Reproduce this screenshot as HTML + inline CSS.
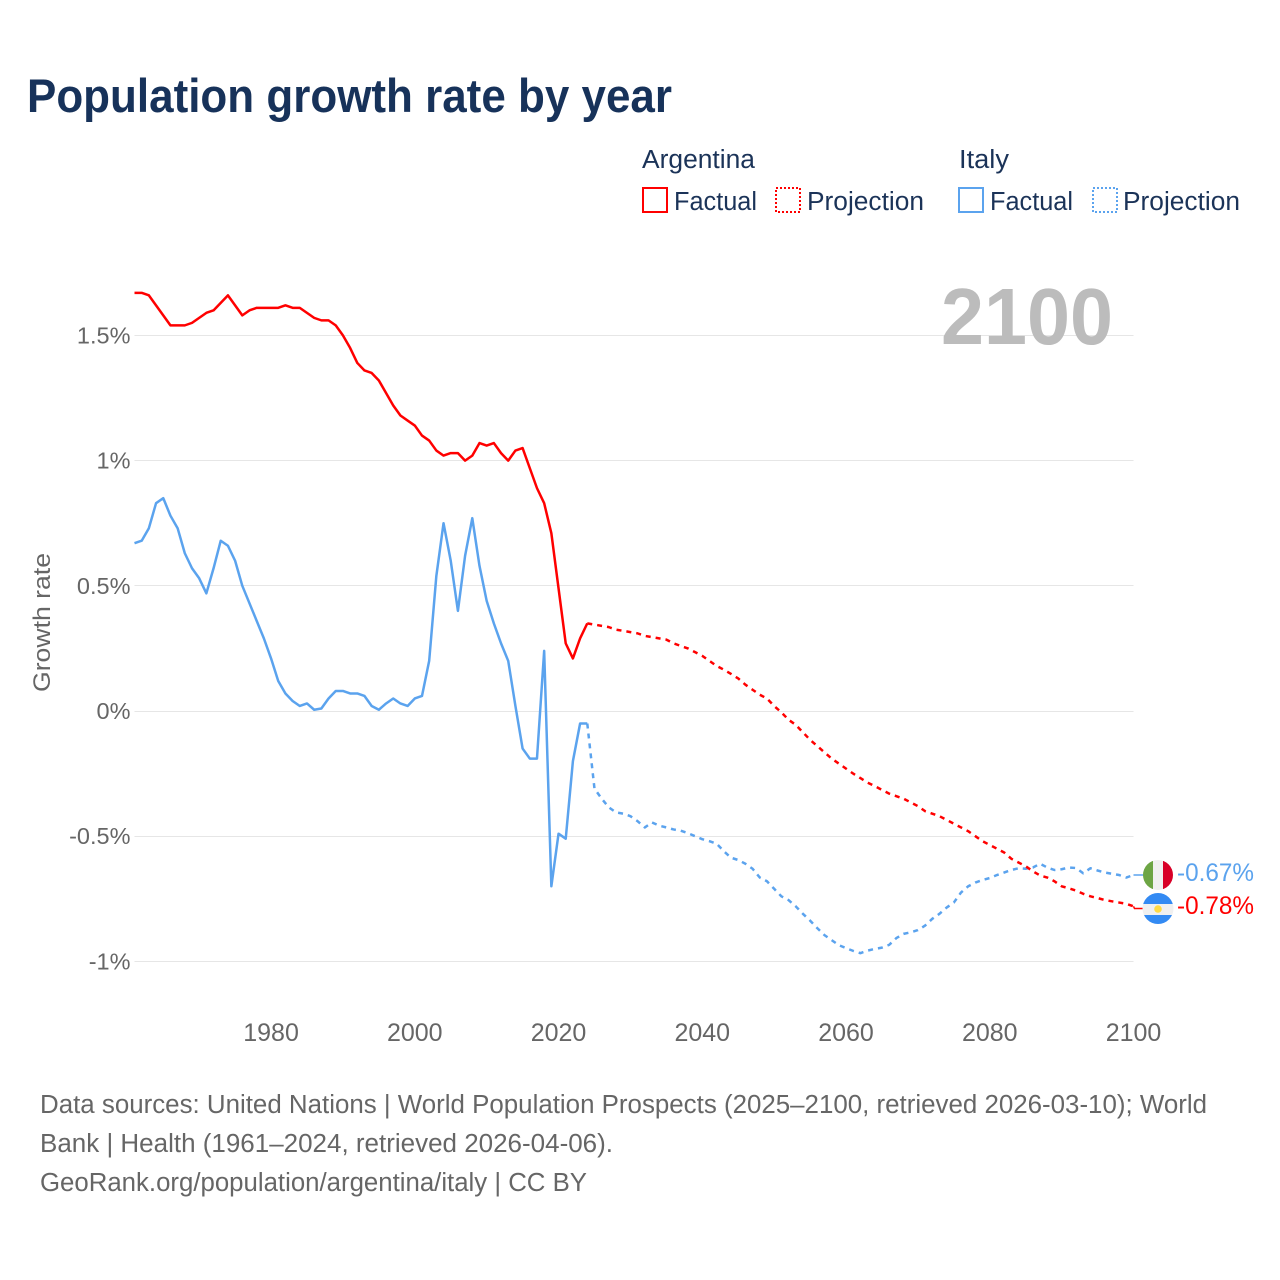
<!DOCTYPE html>
<html lang="en">
<head>
<meta charset="utf-8">
<title>Population growth rate by year</title>
<style>
html,body{margin:0;padding:0;background:#fff;width:1280px;height:1280px;overflow:hidden}
svg{display:block}
text{font-family:"Liberation Sans",sans-serif}
</style>
</head>
<body>
<svg id="chart" xmlns="http://www.w3.org/2000/svg" width="1280" height="1280" viewBox="0 0 1280 1280">
  <text x="27" y="112" font-size="47" font-weight="700" fill="#17325a" textLength="645" lengthAdjust="spacingAndGlyphs">Population growth rate by year</text>

  <g font-size="25.5" fill="#1b3358">
    <text x="642" y="168" textLength="113" lengthAdjust="spacingAndGlyphs">Argentina</text>
    <text x="959" y="168" textLength="50" lengthAdjust="spacingAndGlyphs">Italy</text>
    <rect x="643" y="188" width="24" height="24" fill="none" stroke="#ff0000" stroke-width="2"/>
    <text x="674" y="210" textLength="83" lengthAdjust="spacingAndGlyphs">Factual</text>
    <rect x="776" y="188" width="24" height="24" fill="none" stroke="#ff0000" stroke-width="2" stroke-dasharray="2 2"/>
    <text x="807" y="210" textLength="117" lengthAdjust="spacingAndGlyphs">Projection</text>
    <rect x="959" y="188" width="24" height="24" fill="none" stroke="#5ba3ee" stroke-width="2"/>
    <text x="990" y="210" textLength="83" lengthAdjust="spacingAndGlyphs">Factual</text>
    <rect x="1093" y="188" width="24" height="24" fill="none" stroke="#5ba3ee" stroke-width="2" stroke-dasharray="2 2"/>
    <text x="1123" y="210" textLength="117" lengthAdjust="spacingAndGlyphs">Projection</text>
  </g>

  <g id="grid"></g>
  <g id="y-ticks"></g>
  <g id="x-ticks"></g>

  <text x="941" y="344" font-size="80" font-weight="700" fill="#bcbcbc" textLength="172" lengthAdjust="spacingAndGlyphs">2100</text>
  <text transform="translate(50,692) rotate(-90)" font-size="24" fill="#666666" textLength="139" lengthAdjust="spacingAndGlyphs">Growth rate</text>

  <g id="series"></g>

  <g>
    <clipPath id="clip-it"><circle cx="1158" cy="875" r="15"/></clipPath>
    <g clip-path="url(#clip-it)">
      <rect x="1143" y="860" width="10" height="30" fill="#6da544"/>
      <rect x="1153" y="860" width="10" height="30" fill="#f0f0f0"/>
      <rect x="1163" y="860" width="10" height="30" fill="#d80027"/>
    </g>
  </g>
  <g>
    <clipPath id="clip-ar"><circle cx="1158" cy="908.5" r="15.5"/></clipPath>
    <g clip-path="url(#clip-ar)">
      <rect x="1142" y="893" width="32" height="11" fill="#338af3"/>
      <rect x="1142" y="904" width="32" height="11" fill="#f0f0f0"/>
      <rect x="1142" y="915" width="32" height="10" fill="#338af3"/>
      <circle cx="1158" cy="909" r="3.8" fill="#ffda44"/>
    </g>
  </g>
  <text x="1177" y="881" font-size="25" fill="#5ba3ee" textLength="77" lengthAdjust="spacingAndGlyphs">-0.67%</text>
  <text x="1177" y="914" font-size="25" fill="#ff0000" textLength="77" lengthAdjust="spacingAndGlyphs">-0.78%</text>

  <g font-size="25.5" fill="#666666">
    <text x="40" y="1113" textLength="1167" lengthAdjust="spacingAndGlyphs">Data sources: United Nations | World Population Prospects (2025–2100, retrieved 2026-03-10); World</text>
    <text x="40" y="1152" textLength="573" lengthAdjust="spacingAndGlyphs">Bank | Health (1961–2024, retrieved 2026-04-06).</text>
    <text x="40" y="1191" textLength="547" lengthAdjust="spacingAndGlyphs">GeoRank.org/population/argentina/italy | CC BY</text>
  </g>
</svg>
<script>
const yTicks = [1.5, 1, 0.5, 0, -0.5, -1];
const yTickLabels = ["1.5%", "1%", "0.5%", "0%", "-0.5%", "-1%"];
const xTicks = [1980, 2000, 2020, 2040, 2060, 2080, 2100];
const factualStartYear = 1961;
const projectionStartYear = 2024;
const argentinaFactual = [
  1.67,1.67,1.66,1.62,1.58,1.54,1.54,1.54,1.55,1.57,
  1.59,1.60,1.63,1.66,1.62,1.58,1.60,1.61,1.61,1.61,
  1.61,1.62,1.61,1.61,1.59,1.57,1.56,1.56,1.54,1.50,
  1.45,1.39,1.36,1.35,1.32,1.27,1.22,1.18,1.16,1.14,
  1.10,1.08,1.04,1.02,1.03,1.03,1.00,1.02,1.07,1.06,
  1.07,1.03,1.00,1.04,1.05,0.97,0.89,0.83,0.71,0.49,
  0.27,0.21,0.29,0.35
];
const italyFactual = [
  0.67,0.68,0.73,0.83,0.85,0.78,0.73,0.63,0.57,0.53,
  0.47,0.57,0.68,0.66,0.60,0.50,0.43,0.36,0.29,0.21,
  0.12,0.07,0.04,0.02,0.03,0.005,0.01,0.05,0.08,0.08,
  0.07,0.07,0.06,0.02,0.005,0.03,0.05,0.03,0.02,0.05,
  0.06,0.20,0.54,0.75,0.60,0.40,0.62,0.77,0.58,0.44,
  0.35,0.27,0.20,0.02,-0.15,-0.19,-0.19,0.24,-0.70,-0.49,
  -0.51,-0.20,-0.05,-0.05
];
const argentinaProjection = [
  0.35,0.345,0.34,0.335,0.325,0.32,0.315,0.31,0.30,0.295,
  0.29,0.285,0.27,0.26,0.25,0.235,0.22,0.20,0.18,0.165,
  0.148,0.13,0.105,0.085,0.065,0.05,0.02,-0.005,-0.035,-0.055,
  -0.085,-0.115,-0.14,-0.165,-0.19,-0.21,-0.23,-0.25,-0.268,-0.286,
  -0.30,-0.315,-0.33,-0.34,-0.35,-0.365,-0.38,-0.40,-0.41,-0.42,
  -0.435,-0.45,-0.465,-0.48,-0.50,-0.52,-0.535,-0.55,-0.565,-0.59,
  -0.605,-0.62,-0.64,-0.657,-0.665,-0.68,-0.70,-0.708,-0.717,-0.73,
  -0.74,-0.747,-0.755,-0.76,-0.765,-0.77,-0.78
];
const italyProjection = [
  -0.05,-0.31,-0.35,-0.385,-0.405,-0.41,-0.42,-0.44,-0.465,-0.445,
  -0.458,-0.465,-0.473,-0.478,-0.488,-0.50,-0.512,-0.52,-0.53,-0.56,
  -0.586,-0.595,-0.61,-0.63,-0.665,-0.68,-0.71,-0.74,-0.755,-0.78,
  -0.81,-0.837,-0.867,-0.895,-0.915,-0.935,-0.947,-0.958,-0.967,-0.957,
  -0.95,-0.945,-0.934,-0.907,-0.89,-0.884,-0.875,-0.857,-0.83,-0.81,
  -0.785,-0.765,-0.725,-0.70,-0.685,-0.675,-0.667,-0.655,-0.645,-0.635,
  -0.628,-0.63,-0.625,-0.61,-0.625,-0.635,-0.632,-0.625,-0.627,-0.648,
  -0.628,-0.637,-0.645,-0.65,-0.655,-0.665,-0.655
];

const NS = "http://www.w3.org/2000/svg";
const plotLeft = 134.5, plotRight = 1133.5, zeroY = 711, unitY = 250.4;
const lastYear = 2100;
const strokeW = 2.5;
function xScale(year) {
  return plotLeft + (year - factualStartYear) * (plotRight - plotLeft) / (lastYear - factualStartYear);
}
function yScale(value) {
  return zeroY - value * unitY;
}
function svgEl(tag, parent, attrs) {
  const el = document.createElementNS(NS, tag);
  for (const k in attrs) el.setAttribute(k, attrs[k]);
  parent.appendChild(el);
  return el;
}
function pathFor(values, startYear) {
  return values.map(function (v, i) {
    return (i ? "L" : "M") + xScale(startYear + i).toFixed(2) + " " + yScale(v).toFixed(2);
  }).join("");
}

const grid = document.getElementById("grid");
const yGroup = document.getElementById("y-ticks");
const xGroup = document.getElementById("x-ticks");
const seriesGroup = document.getElementById("series");

yTicks.forEach(function (t, i) {
  const py = Math.floor(yScale(t)) + 0.5;
  const line = svgEl("line", grid, {x1: plotLeft, x2: plotRight, y1: py, y2: py, stroke: "#e6e6e6", "stroke-width": 1});
  
  
  const label = svgEl("text", yGroup, {x: 130.5, y: yScale(t) + 8, "text-anchor": "end", "font-size": 23.5, fill: "#666666"});
  
  
  label.textContent = yTickLabels[i];
});

xTicks.forEach(function (t) {
  const label = svgEl("text", xGroup, {x: xScale(t), y: 1041, "text-anchor": "middle", "font-size": 25, fill: "#666666"});
  
  
  label.textContent = t;
});

const projItaly = svgEl("path", seriesGroup, {d: pathFor(italyProjection, projectionStartYear), fill: "none", stroke: "#5ba3ee", "stroke-width": strokeW, "stroke-dasharray": "5 5", "stroke-linejoin": "round"});


const projArgentina = svgEl("path", seriesGroup, {d: pathFor(argentinaProjection, projectionStartYear), fill: "none", stroke: "#ff0000", "stroke-width": strokeW, "stroke-dasharray": "5 5", "stroke-linejoin": "round"});


const factItaly = svgEl("path", seriesGroup, {d: pathFor(italyFactual, factualStartYear), fill: "none", stroke: "#5ba3ee", "stroke-width": strokeW, "stroke-linejoin": "round"});


const factArgentina = svgEl("path", seriesGroup, {d: pathFor(argentinaFactual, factualStartYear), fill: "none", stroke: "#ff0000", "stroke-width": strokeW, "stroke-linejoin": "round"});



const stubItaly = svgEl("polyline", seriesGroup, {points: xScale(lastYear) + "," + yScale(italyProjection[italyProjection.length - 1]) + " 1144,875", fill: "none", stroke: "#5ba3ee", "stroke-width": 1.5});


const stubArgentina = svgEl("polyline", seriesGroup, {points: xScale(lastYear) + "," + yScale(argentinaProjection[argentinaProjection.length - 1]) + " 1134.5,908.5 1144,908.5", fill: "none", stroke: "#ff0000", "stroke-width": 1.5});


</script>
</body>
</html>
